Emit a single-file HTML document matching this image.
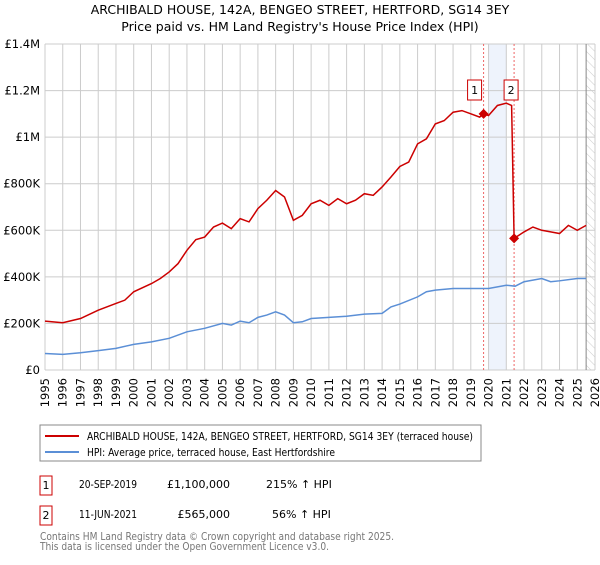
<!DOCTYPE html>
<html><head><meta charset="utf-8"><style>
body{margin:0;background:#fff;font-family:"Liberation Sans","DejaVu Sans",sans-serif;}
svg text{font-family:"DejaVu Sans","Liberation Sans",sans-serif;}
</style></head><body>
<svg id="c" width="600" height="560" xmlns="http://www.w3.org/2000/svg">
<defs><pattern id="hatch" width="6" height="6" patternUnits="userSpaceOnUse" patternTransform="rotate(-45)"><line x1="0" y1="0" x2="0" y2="6" stroke="#ccc" stroke-width="1"/></pattern></defs>
<text x="300" y="14" text-anchor="middle" font-size="12.5">ARCHIBALD HOUSE, 142A, BENGEO STREET, HERTFORD, SG14 3EY</text>
<text x="300" y="31" text-anchor="middle" font-size="12.5">Price paid vs. HM Land Registry's House Price Index (HPI)</text>
<g id="grid"></g><g id="marks"></g><g id="axes"></g>
<rect x="40" y="425" width="441" height="36" fill="#fff" stroke="#888"/>
<line x1="45" y1="436" x2="79" y2="436" stroke="#cc0000" stroke-width="2"/>
<text x="87" y="440" font-size="10.5" textLength="386" lengthAdjust="spacingAndGlyphs">ARCHIBALD HOUSE, 142A, BENGEO STREET, HERTFORD, SG14 3EY (terraced house)</text>
<line x1="45" y1="452" x2="79" y2="452" stroke="#5b8fd6" stroke-width="2"/>
<text x="87" y="456" font-size="10.5" textLength="248" lengthAdjust="spacingAndGlyphs">HPI: Average price, terraced house, East Hertfordshire</text>
<rect x="40" y="476" width="12" height="19" fill="#fff" stroke="#cc0000"/>
<text x="46" y="489" text-anchor="middle" font-size="11">1</text>
<text x="79" y="488" font-size="11" textLength="58" lengthAdjust="spacingAndGlyphs">20-SEP-2019</text>
<text x="230" y="488" text-anchor="end" font-size="11">£1,100,000</text>
<text x="266" y="488" font-size="11">215% ↑ HPI</text>
<rect x="40" y="506" width="12" height="19" fill="#fff" stroke="#cc0000"/>
<text x="46" y="519" text-anchor="middle" font-size="11">2</text>
<text x="79" y="518" font-size="11" textLength="58" lengthAdjust="spacingAndGlyphs">11-JUN-2021</text>
<text x="230" y="518" text-anchor="end" font-size="11">£565,000</text>
<text x="272" y="518" font-size="11">56% ↑ HPI</text>
<text x="40" y="540" font-size="11" fill="#777" textLength="354" lengthAdjust="spacingAndGlyphs">Contains HM Land Registry data © Crown copyright and database right 2025.</text>
<text x="40" y="550" font-size="11" fill="#777" textLength="289" lengthAdjust="spacingAndGlyphs">This data is licensed under the Open Government Licence v3.0.</text>
</svg>
<script>
const hpiYears=[1995,1996,1997,1998,1999,2000,2001,2002,2003,2004,2005,2005.5,2006,2006.5,2007,2007.5,2008,2008.5,2009,2009.5,2010,2011,2012,2013,2014,2014.5,2015,2016,2016.5,2017,2018,2019,2020,2021,2021.5,2022,2023,2023.5,2024,2025,2025.5];
const hpiValues=[71,67,74,83,93,110,121,136,164,179,200,193,210,203,226,236,250,236,203,207,221,226,231,240,243,271,283,314,336,343,350,350,350,364,360,379,393,379,383,393,393];
const priceYears=[1995,1996,1997,1998,1999,1999.5,2000,2001,2001.5,2002,2002.5,2003,2003.5,2004,2004.5,2005,2005.5,2006,2006.5,2007,2007.5,2008,2008.5,2009,2009.5,2010,2010.5,2011,2011.5,2012,2012.5,2013,2013.5,2014,2014.5,2015,2015.5,2016,2016.5,2017,2017.5,2018,2018.5,2019,2019.5,2019.72,2020,2020.5,2021,2021.3,2021.44,2022,2022.5,2023,2023.5,2024,2024.5,2025,2025.5];
const priceValues=[210,203,221,257,286,300,336,371,393,421,457,514,560,571,614,631,607,650,636,693,729,771,743,643,664,714,729,707,736,714,729,757,750,786,829,874,893,971,993,1057,1071,1107,1114,1100,1086,1100,1093,1136,1146,1136,565,593,614,600,593,586,621,600,621];
const saleYears=[2019.72,2021.44];
const saleValues=[1100,565];
const yTicks=[0,200,400,600,800,1000,1200,1400];
const yLabels=["£0","£200K","£400K","£600K","£800K","£1M","£1.2M","£1.4M"];
const xTicks=[];for(let y=1995;y<=2026;y++)xTicks.push(y);
const X0=45,X1=595,Y0=370,Y1=44;
const sx=y=>X0+(y-1995)*(X1-X0)/31;
const sy=v=>Y0-v*(Y0-Y1)/1400;
const NS="http://www.w3.org/2000/svg";
function mk(p,t,a){const e=document.createElementNS(NS,t);for(const k in a)e.setAttribute(k,a[k]);p.appendChild(e);return e;}
const grid=document.getElementById('grid'),marks=document.getElementById('marks'),axes=document.getElementById('axes');
let e=mk(grid,'rect',{x:sx(2020),y:Y1,width:sx(2021)-sx(2020),height:Y0-Y1,fill:'#eef3fc'});


e=mk(grid,'rect',{x:sx(2025.5),y:Y1,width:X1-sx(2025.5),height:Y0-Y1,fill:'url(#hatch)'});


xTicks.forEach(y=>{const l=mk(grid,'line',{x1:sx(y),x2:sx(y),y1:Y1,y2:Y0,stroke:'#ccc'});


const t=mk(axes,'text',{x:0,y:0,'font-size':11.5,'text-anchor':'end',transform:`translate(${sx(y)+4},378) rotate(-90)`});t.textContent=y;

});
yTicks.forEach((v,i)=>{const l=mk(grid,'line',{x1:X0,x2:X1,y1:sy(v),y2:sy(v),stroke:'#ccc'});


const t=mk(axes,'text',{x:X0-5,y:sy(v)+4,'font-size':11.5,'text-anchor':'end'});t.textContent=yLabels[i];

});
e=mk(grid,'line',{x1:sx(2025.5),x2:sx(2025.5),y1:Y1,y2:Y0,stroke:'#888'});


saleYears.forEach((y,i)=>{const l=mk(grid,'line',{x1:sx(y),x2:sx(y),y1:Y1,y2:Y0,stroke:'#e66','stroke-dasharray':'2,2'});

});
const hp=mk(marks,'polyline',{points:hpiYears.map((y,i)=>sx(y)+','+sy(hpiValues[i])).join(' '),fill:'none',stroke:'#5b8fd6','stroke-width':1.5});


const pp=mk(marks,'polyline',{points:priceYears.map((y,i)=>sx(y)+','+sy(priceValues[i])).join(' '),fill:'none',stroke:'#cc0000','stroke-width':1.5});


saleYears.forEach((y,i)=>{const cx=sx(y),cy=sy(saleValues[i]);
const d=mk(marks,'polygon',{points:`${cx},${cy-5} ${cx+5},${cy} ${cx},${cy+5} ${cx-5},${cy}`,fill:'#cc0000'});


const bx=cx-(i==0?4:-2)-5;
const r=mk(marks,'rect',{x:bx-7,y:80,width:14,height:20,fill:'#fff',stroke:'#cc0000'});


const t=mk(marks,'text',{x:bx,y:94,'font-size':11,'text-anchor':'middle'});t.textContent=i+1;

});
</script>
</body></html>
